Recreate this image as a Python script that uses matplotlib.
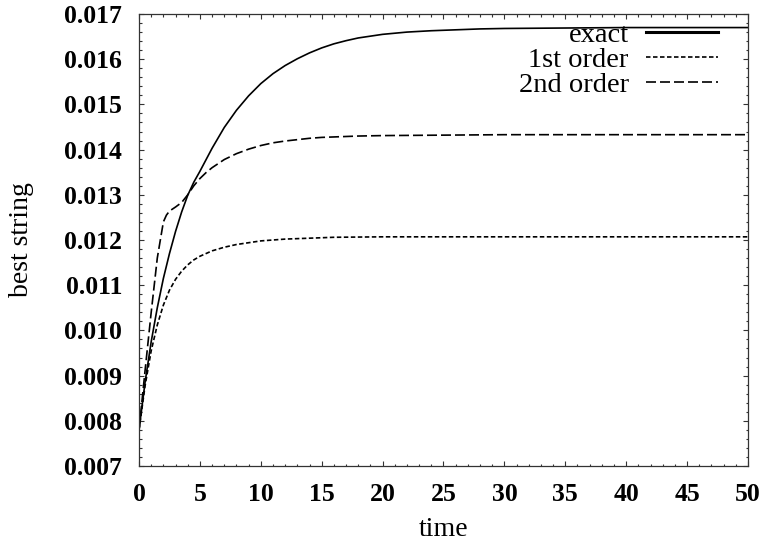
import matplotlib
matplotlib.use("Agg")
import matplotlib.pyplot as plt
from matplotlib.ticker import MultipleLocator, FormatStrFormatter

# values
t_exact = [0, 0.5, 1, 1.5, 2, 2.5, 3, 3.5, 4, 4.5, 5, 6, 7, 8, 9, 10, 11, 12, 13, 14, 15, 16, 17, 18, 19, 20,
           22, 24, 26, 28, 30, 35, 40, 50]
v_exact = [0.00780, 0.00886, 0.00975, 0.01050, 0.01115, 0.01170, 0.01219, 0.01262, 0.01299, 0.01328, 0.01352,
           0.01403, 0.01449, 0.01487, 0.01519, 0.01546, 0.01568, 0.01586, 0.01601, 0.01614, 0.01625, 0.01634,
           0.01641, 0.01647, 0.01651, 0.01655, 0.01660, 0.01663, 0.01665, 0.01667, 0.01668, 0.01669, 0.01670,
           0.01670]

t_first = [0, 0.5, 1, 1.5, 2, 2.5, 3, 3.5, 4, 4.5, 5, 6, 7, 8, 9, 10, 12, 14, 16, 20, 30, 50]
v_first = [0.00780, 0.00878, 0.00955, 0.01012, 0.01056, 0.01089, 0.01113, 0.01131, 0.01145, 0.01156, 0.01164,
           0.01176, 0.01184, 0.01190, 0.01194, 0.01198, 0.01202, 0.01204, 0.01206, 0.01207, 0.01207, 0.01207]

t_second = [0, 0.5, 1, 1.5, 2, 2.25, 2.5, 3, 3.5, 4, 4.5, 5, 5.5, 6, 7, 8, 9, 10, 11, 12, 13, 14, 15, 16, 18,
            20, 25, 30, 50]
v_second = [0.00780, 0.00912, 0.01040, 0.01160, 0.01240, 0.01255, 0.01264, 0.01273, 0.01283, 0.01300, 0.01320,
            0.01336, 0.01349, 0.01360, 0.01378, 0.01391, 0.01401, 0.01409, 0.01415, 0.01419, 0.01422, 0.01425,
            0.01427, 0.01428, 0.01430, 0.01431, 0.01432, 0.01433, 0.01433]

labels = ["exact", "1st order", "2nd order"]

plt.rcParams["font.family"] = ["Liberation Serif", "DejaVu Serif"]

fig = plt.figure(figsize=(7.63, 5.47), dpi=100)
ax = fig.add_axes([0.1822, 0.1481, 0.7981, 0.8263])

lw = 1.2
ax.plot(t_exact, v_exact, color="black", lw=lw, label=labels[0])
ax.plot(t_first, v_first, color="black", lw=lw, dashes=(2.7, 1.5), label=labels[1])
ax.plot(t_second, v_second, color="black", lw=lw, dashes=(6, 2.4), label=labels[2])

ax.set_xlim(0, 50)
ax.set_ylim(0.007, 0.017)
ax.xaxis.set_major_locator(MultipleLocator(5))
ax.xaxis.set_minor_locator(MultipleLocator(1))
ax.yaxis.set_major_locator(MultipleLocator(0.001))
ax.yaxis.set_minor_locator(MultipleLocator(0.0002))
ax.yaxis.set_major_formatter(FormatStrFormatter("%.3f"))

ax.tick_params(which="both", direction="in", top=True, right=True, color="#333333", width=0.8)
ax.tick_params(which="major", length=3.5, labelsize=18.5)
ax.tick_params(axis="y", which="major", pad=12)
ax.tick_params(axis="x", which="major", pad=12)
ax.tick_params(which="minor", length=1.8)
for lab in ax.get_xticklabels() + ax.get_yticklabels():
    lab.set_fontweight("bold")
for sp in ax.spines.values():
    sp.set_linewidth(0.9)
    sp.set_color("#333333")

ax.set_xlabel("time", fontsize=20)
ax.set_ylabel("best string", fontsize=20)
ax.xaxis.set_label_coords(0.5, -0.112)
ax.yaxis.set_label_coords(-0.172, 0.5)

leg = ax.legend(loc="upper right", bbox_to_anchor=(0.950, 0.983), frameon=False, fontsize=20.5,
                markerfirst=False, handlelength=2.5, handletextpad=0.62, labelspacing=-0.03,
                borderpad=0.0, borderaxespad=0.0)
leg.get_lines()[0].set_linewidth(2.2)

fig.savefig("out.png", dpi=100)
